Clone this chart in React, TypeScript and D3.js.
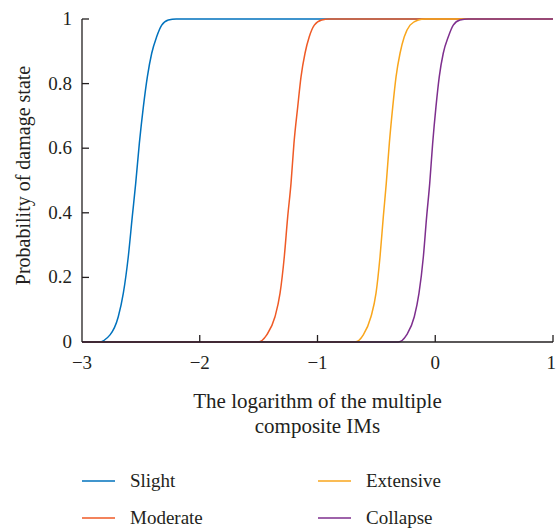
// App.tsx - fragility curves for four damage states
import React, { useRef, useEffect } from 'react';
import * as d3 from 'd3';

// x = logarithm of the composite IM, p = probability
const slightX = [-3, -2.86, -2.762, -2.692, -2.649, -2.607, -2.573, -2.544, -2.513, -2.479, -2.445, -2.408, -2.366, -2.323, -2.267, -2.2, 1];
const slightP = [0, 0, 0.022, 0.078, 0.151, 0.264, 0.388, 0.491, 0.615, 0.728, 0.821, 0.894, 0.945, 0.981, 0.997, 1, 1];

const moderateX = [-3, -1.503, -1.431, -1.361, -1.318, -1.282, -1.253, -1.225, -1.2, -1.168, -1.14, -1.106, -1.07, -1.027, -0.964, -0.9, 1];
const moderateP = [0, 0, 0.022, 0.078, 0.151, 0.264, 0.388, 0.491, 0.615, 0.728, 0.821, 0.894, 0.945, 0.981, 0.997, 1, 1];

const extensiveX = [-3, -0.682, -0.611, -0.546, -0.503, -0.469, -0.441, -0.416, -0.39, -0.361, -0.333, -0.299, -0.263, -0.214, -0.144, -0.087, 1];
const extensiveP = [0, 0, 0.022, 0.078, 0.151, 0.264, 0.388, 0.491, 0.615, 0.728, 0.821, 0.894, 0.945, 0.981, 0.997, 1, 1];

const collapseX = [-3, -0.314, -0.243, -0.178, -0.138, -0.101, -0.073, -0.047, -0.022, 0.006, 0.034, 0.068, 0.111, 0.153, 0.21, 0.281, 1];
const collapseP = [0, 0, 0.022, 0.078, 0.151, 0.264, 0.388, 0.491, 0.615, 0.728, 0.821, 0.894, 0.945, 0.981, 0.997, 1, 1];

const seriesNames = ['Slight', 'Moderate', 'Extensive', 'Collapse'];
const seriesColors = ['#0072bd', '#ef5a26', '#f9a61c', '#7e2f8e'];

const xTicks = [-3, -2, -1, 0, 1];
const yTicks = [0, 0.2, 0.4, 0.6, 0.8, 1];

const FONT = '"Liberation Serif", "Times New Roman", serif';
const INK = '#231f20';

const App = () => {
  const chartRef = useRef<SVGSVGElement>(null);

  useEffect(() => {
    drawChart();
  }, []);

  const drawChart = () => {
    const svg = d3.select(chartRef.current);
    svg.selectAll('*').remove();

    const x = d3.scaleLinear().domain([-3, 1]).range([82, 553]);
    const y = d3.scaleLinear().domain([0, 1]).range([342, 19]);

    const series = [
      { xs: slightX, ps: slightP },
      { xs: moderateX, ps: moderateP },
      { xs: extensiveX, ps: extensiveP },
      { xs: collapseX, ps: collapseP },
    ];

    const line = d3
      .line<[number, number]>()
      .x((d) => x(d[0]))
      .y((d) => y(d[1]))
      .curve(d3.curveMonotoneX);

    // curves
    series.forEach((s, i) => {
      const pts = s.xs.map((v, j) => [v, s.ps[j]] as [number, number]);
      svg
        .append('path')
        .attr('d', line(pts))
        .attr('fill', 'none')
        .attr('stroke', seriesColors[i])
        .attr('stroke-width', 1.5);
    });

    // axes
    const axes = svg.append('g').attr('stroke', INK).attr('stroke-width', 1.3);
    axes.append('line').attr('x1', x(-3)).attr('x2', x(1)).attr('y1', y(0)).attr('y2', y(0));
    axes.append('line').attr('x1', x(-3)).attr('x2', x(-3)).attr('y1', y(0)).attr('y2', y(1));

    xTicks.slice(1).forEach((t) => {
      axes.append('line').attr('x1', x(t)).attr('x2', x(t)).attr('y1', y(0)).attr('y2', y(0) - 7);
    });
    yTicks.slice(1).forEach((t) => {
      axes.append('line').attr('x1', x(-3)).attr('x2', x(-3) + 7).attr('y1', y(t)).attr('y2', y(t));
    });

    const txt = svg.append('g').attr('font-family', FONT).attr('font-size', 19).attr('fill', INK);

    xTicks.forEach((t, i) => {
      const last = i === xTicks.length - 1;
      txt
        .append('text')
        .attr('x', last ? 556 : x(t))
        .attr('y', y(0) + 27)
        .attr('text-anchor', last ? 'end' : 'middle')
        .text(t < 0 ? `\u2212${Math.abs(t)}` : `${t}`);
    });

    yTicks.forEach((t) => {
      txt
        .append('text')
        .attr('x', x(-3) - 10)
        .attr('y', y(t) + 6)
        .attr('text-anchor', 'end')
        .text(`${t}`);
    });

    // axis titles
    txt
      .append('text')
      .attr('transform', `translate(30,${y(0.5) - 5}) rotate(-90)`)
      .attr('text-anchor', 'middle')
      .attr('font-size', 20)
      .text('Probability of damage state');

    const midX = (x(-3) + x(1)) / 2;
    txt.append('text').attr('x', midX).attr('y', 408).attr('text-anchor', 'middle').attr('font-size', 21).text('The logarithm of the multiple');
    txt.append('text').attr('x', midX).attr('y', 433).attr('text-anchor', 'middle').attr('font-size', 21).text('composite IMs');

    // legend, 2 columns
    seriesNames.forEach((name, i) => {
      const col = i < 2 ? 0 : 1;
      const row = i % 2;
      const lx = col === 0 ? 82 : 318;
      const ly = 481 + row * 37;
      svg
        .append('line')
        .attr('x1', lx)
        .attr('x2', lx + 33)
        .attr('y1', ly)
        .attr('y2', ly)
        .attr('stroke', seriesColors[i])
        .attr('stroke-width', 1.5);
      txt.append('text').attr('x', lx + 48).attr('y', ly + 6).text(name);
    });
  };

  return (
    <svg
      ref={chartRef}
      width={556}
      height={528}
      style={{ position: 'absolute', left: 0, top: 0, background: '#fff' }}
    />
  );
};

export default App;
